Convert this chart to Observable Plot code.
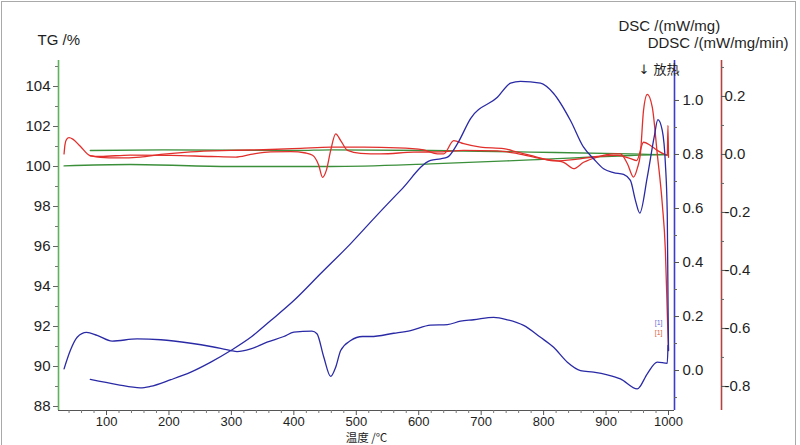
<!DOCTYPE html>
<html><head><meta charset="utf-8">
<script src="https://cdn.jsdelivr.net/npm/d3@7"></script>
<script src="https://cdn.jsdelivr.net/npm/@observablehq/plot@0.6"></script>
<style>
body{margin:0;background:#fff;}
#wrap{position:relative;width:800px;height:445px;overflow:hidden;background:#fff;}
#border{position:absolute;left:1px;top:1px;width:795px;height:470px;border:1.5px solid #a9a9a9;box-sizing:border-box;pointer-events:none;}
</style></head>
<body><div id="wrap"><div id="chart"></div><div id="border"></div></div>
<script>
// ---- tick labels ----
const xTicks = [100,200,300,400,500,600,700,800,900,1000];
const xMinorTicks = [40,60,80,120,140,160,180,220,240,260,280,320,340,360,380,420,440,460,480,520,540,560,580,620,640,660,680,720,740,760,780,820,840,860,880,920,940,960,980];
const tgTicks = [88,90,92,94,96,98,100,102,104];
const tgMinorTicks = [89,91,93,95,97,99,101,103,105];
const dscTicks = [0.0,0.2,0.4,0.6,0.8,1.0];
const dscMinorTicks = [-0.1,0.1,0.3,0.5,0.7,0.9,1.1];
const ddscTicks = [-0.8,-0.6,-0.4,-0.2,0.0,0.2];
const ddscMinorTicks = [-0.7,-0.5,-0.3,-0.1,0.1,0.3];

// ---- TG /% (green) ----
const tempTG1 = [32,138,299,405,459,619,779,939,992,998];
const tg1 =     [100.03,100.10,100.0,100.0,100.0,100.13,100.33,100.55,100.60,100.58];
const tempTG2 = [74,191,405,459,619,779,939,992,998];
const tg2 =     [100.80,100.83,100.80,100.83,100.80,100.72,100.63,100.59,100.58];

// ---- DSC /(mW/mg) (blue) ----
const tempDSC1 = [32,42,53,68,85,109,149,187,235,267,299,309,331,357,384,400,429,437,448,459,467,475,491,510,523,560,587,619,646,667,688,720,742,768,795,816,838,859,880,902,923,950,966,982,998,999.2];
const dsc1 =     [0.006,0.074,0.123,0.141,0.130,0.109,0.117,0.114,0.101,0.089,0.074,0.070,0.080,0.105,0.126,0.142,0.146,0.136,0.049,-0.022,0.012,0.074,0.111,0.126,0.126,0.138,0.148,0.168,0.170,0.183,0.188,0.197,0.188,0.167,0.123,0.086,0.031,0.000,-0.006,-0.016,-0.031,-0.068,-0.012,0.031,0.027,0.093];
const tempDSC2 = [74,117,154,170,203,235,267,299,331,363,400,443,491,531,571,619,635,646,662,683,726,747,763,795,816,843,864,880,896,912,928,939,947,954,966,977,983,990,995,998,999.2,1000];
const dsc2 =     [-0.033,-0.052,-0.064,-0.059,-0.034,-0.006,0.031,0.074,0.123,0.185,0.259,0.359,0.470,0.570,0.667,0.778,0.784,0.790,0.840,0.933,1.012,1.064,1.071,1.064,1.026,0.926,0.827,0.784,0.747,0.733,0.726,0.704,0.630,0.583,0.716,0.864,0.929,0.889,0.766,0.581,0.259,0.074];

// ---- DDSC /(mW/mg/min) (red) ----
const tempDDSC1 = [32,33.5,36,40,46,58,74,90,138,203,267,307,331,363,395,419,430,440,446,452,459,467,475,486,507,539,592,635,672,726,758,795,819,851,886,918,939,949,960,971,982,994,998,999.2,1000];
const ddsc1 =     [0.002,0.034,0.052,0.058,0.053,0.028,-0.004,-0.007,-0.002,-0.003,-0.007,-0.009,0.000,0.009,0.010,0.005,-0.003,-0.038,-0.079,-0.055,0.014,0.071,0.048,0.014,0.004,0.002,0.008,0.009,0.014,0.012,0.003,-0.014,-0.022,-0.017,-0.007,-0.003,-0.014,-0.021,0.042,0.031,0.014,0.000,-0.003,0.100,-0.010];
const tempDDSC2 = [74,90,118,154,187,235,299,363,411,459,512,566,608,630,640,656,672,699,736,758,779,800,832,848,864,886,912,923,934,944,950,955,960,966,974,982,990,995,998.4,1000];
const ddsc2 =     [-0.005,-0.010,-0.012,-0.009,0.000,0.009,0.014,0.017,0.021,0.025,0.025,0.023,0.016,0.002,0.002,0.048,0.037,0.025,0.020,0.008,-0.003,-0.015,-0.027,-0.049,-0.027,-0.009,0.002,0.002,-0.031,-0.078,-0.048,0.002,0.152,0.207,0.163,0.002,-0.170,-0.331,-0.572,-0.676];

// ---- scales / layout ----
const xMin = 23.1, xMax = 1009.6;
const tgMin = 87.8, tgMax = 105.3;
const dscMin = -0.148, dscMax = 1.148;
const ddscMin = -0.883, ddscMax = 0.324;
const mL = 58, mR = 126, mT = 60, mB = 35, W = 800, H = 445;
const pxPerT = (W - mL - mR) / (xMax - xMin);
const pxPerTG = (H - mT - mB) / (tgMax - tgMin);
const tLen = px => px / pxPerT;
const vLen = px => px / pxPerTG;
const dscY = v => tgMin + (v - dscMin) / (dscMax - dscMin) * (tgMax - tgMin);
const ddscY = v => tgMin + (v - ddscMin) / (ddscMax - ddscMin) * (tgMax - tgMin);
const redOffset = 47;
const zip = (T, V, f = v => v) => T.map((t, i) => ({t, v: f(V[i])}));

const cGreen = "#3b8f3b", cBlue = "#2a2aa6", cRed = "#e1302c";
const aGreen = "#5cb35c", aBlue = "#3b3bcc", aRed = "#b4433f";
const font = "Liberation Sans, Arial, Helvetica, sans-serif";
const tc = "#1e1e1e";
const f1 = v => v.toFixed(1);

const lineOpts = (stroke) => ({x: "t", y: "v", stroke, strokeWidth: 1.3, curve: "monotone-x"});

const chart = Plot.plot({
  width: W, height: H,
  marginLeft: mL, marginRight: mR, marginTop: mT, marginBottom: mB,
  x: {domain: [xMin, xMax], axis: null},
  y: {domain: [tgMin, tgMax], axis: null},
  style: {fontFamily: font, background: "white", overflow: "visible"},
  marks: [
    // curves
    Plot.line(zip(tempTG1, tg1), lineOpts(cGreen)),
    Plot.line(zip(tempTG2, tg2), lineOpts(cGreen)),
    Plot.line(zip(tempDDSC1, ddsc1, ddscY), lineOpts(cRed)),
    Plot.line(zip(tempDDSC2, ddsc2, ddscY), lineOpts(cRed)),
    Plot.line(zip(tempDSC1, dsc1, dscY), lineOpts(cBlue)),
    Plot.line(zip(tempDSC2, dsc2, dscY), lineOpts(cBlue)),

    // x axis
    Plot.ruleY([tgMin], {x1: xMin, x2: xMax, stroke: "#555", strokeWidth: 1}),
    Plot.ruleX(xTicks, {x: d => d, y1: tgMin, y2: tgMin - vLen(5), stroke: "#555"}),
    Plot.ruleX(xMinorTicks, {x: d => d, y1: tgMin, y2: tgMin - vLen(3), stroke: "#777"}),
    Plot.text(xTicks, {x: d => d, y: tgMin, dy: 11, text: d => String(d), fontSize: 13, fill: tc}),

    // TG axis (left, green)
    Plot.ruleX([xMin], {y1: tgMin, y2: tgMax, stroke: aGreen, strokeWidth: 1.6}),
    Plot.ruleY(tgTicks, {y: d => d, x1: xMin - tLen(5), x2: xMin, stroke: "#666"}),
    Plot.ruleY(tgMinorTicks, {y: d => d, x1: xMin - tLen(3), x2: xMin, stroke: "#777"}),
    Plot.text(tgTicks, {x: xMin, y: d => d, text: d => String(d), textAnchor: "end", dx: -8, fontSize: 15, fill: tc}),

    // DSC axis (blue)
    Plot.ruleX([xMax], {y1: tgMin, y2: tgMax, stroke: aBlue, strokeWidth: 1.6}),
    Plot.ruleY(dscTicks, {y: dscY, x1: xMax, x2: xMax + tLen(5), stroke: "#555"}),
    Plot.ruleY(dscMinorTicks, {y: dscY, x1: xMax, x2: xMax + tLen(3), stroke: "#666"}),
    Plot.text(dscTicks, {x: xMax, y: dscY, text: f1, textAnchor: "start", dx: 8, fontSize: 15, fill: tc}),

    // DDSC axis (red)
    Plot.ruleX([xMax], {y1: tgMin, y2: tgMax, dx: redOffset, stroke: aRed, strokeWidth: 1.6}),
    Plot.ruleY(ddscTicks, {y: ddscY, x1: xMax, x2: xMax + tLen(5), dx: redOffset, stroke: "#555"}),
    Plot.ruleY(ddscMinorTicks, {y: ddscY, x1: xMax, x2: xMax + tLen(3), dx: redOffset, stroke: "#666"}),
    Plot.text(ddscTicks, {x: xMax, y: ddscY, text: f1, textAnchor: "start", dx: redOffset + 3, fontSize: 15, fill: tc}),

    // titles
    Plot.text(["TG /%"], {frameAnchor: "top-left", text: d => d, textAnchor: "start", dx: -21, dy: -26, fontSize: 15, fill: tc}),
    Plot.text(["DSC /(mW/mg)"], {frameAnchor: "top-right", text: d => d, textAnchor: "start", dx: -56, dy: -40, fontSize: 15, fill: tc}),
    Plot.text(["DDSC /(mW/mg/min)"], {frameAnchor: "top-right", text: d => d, textAnchor: "end", dx: 114, dy: -23, fontSize: 15, fill: tc}),
    Plot.text(["↓ 放热"], {frameAnchor: "top-right", text: d => d, textAnchor: "start", dx: -36, dy: 4, fontSize: 13, fill: tc, fontFamily: "DejaVu Sans, Noto Sans CJK SC, sans-serif"}),
    Plot.text(["温度 /℃"], {frameAnchor: "bottom", text: d => d, dy: 31, fontSize: 11.5, fill: tc, fontFamily: "Noto Sans CJK SC, sans-serif"}),
    Plot.text(["[1]"], {frameAnchor: "bottom-right", text: d => d, dx: -12, dy: -86, fontSize: 7, fill: "#6b6bd6"}),
    Plot.text(["[1]"], {frameAnchor: "bottom-right", text: d => d, dx: -12, dy: -76, fontSize: 7, fill: "#e0603a"})
  ]
});
document.getElementById("chart").appendChild(chart);
</script>
</body></html>
